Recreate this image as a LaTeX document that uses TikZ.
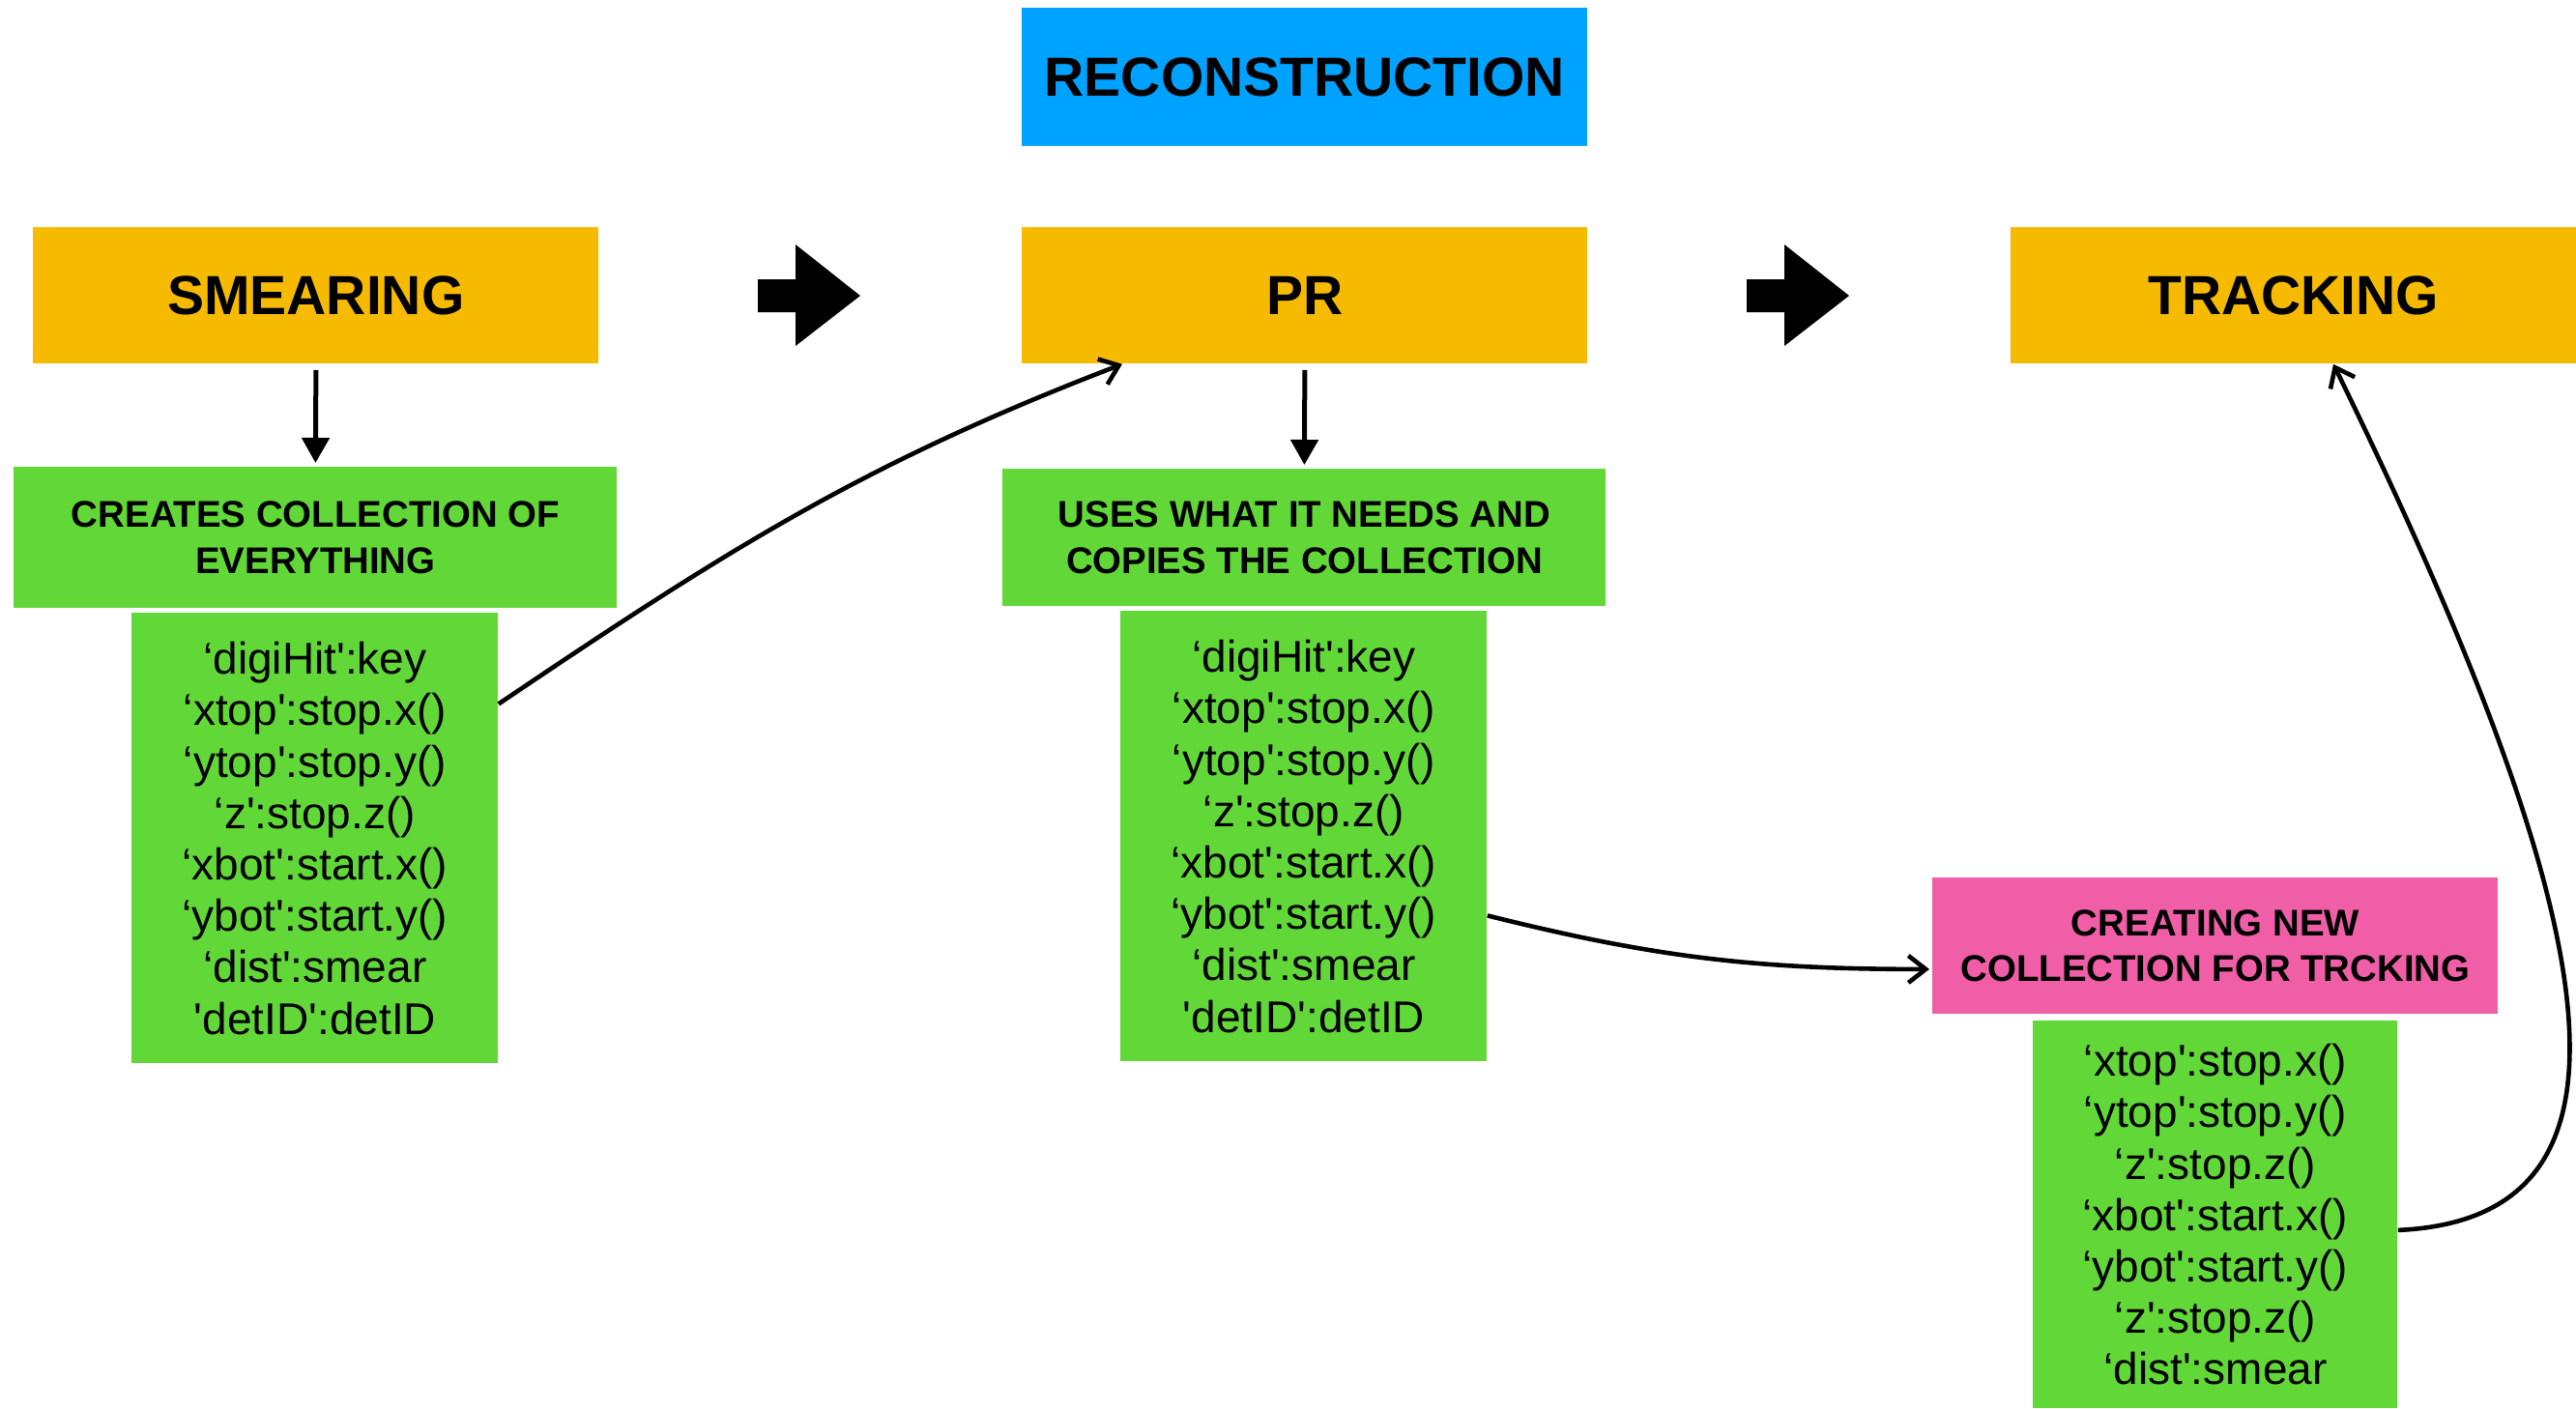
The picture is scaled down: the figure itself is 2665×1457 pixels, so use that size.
\documentclass[tikz,border=0pt]{standalone}
\usepackage{fontspec}
\setmainfont{Liberation Sans}[Ligatures=TeXOff]
\usetikzlibrary{arrows.meta}
\definecolor{orng}{RGB}{246,187,0}
\definecolor{grn}{RGB}{98,216,56}
\definecolor{blu}{RGB}{0,162,255}
\definecolor{pnk}{RGB}{239,94,166}
\begin{document}
\begin{tikzpicture}[x=0.5pt,y=0.5pt,
 box/.style={anchor=north west, inner sep=0pt, align=center},
 title/.style={box, font=\fontsize{28.5}{34}\selectfont\bfseries, minimum width=292.5pt, minimum height=70.5pt, fill=orng},
 head/.style={box, font=\fontsize{19.2}{23.8}\selectfont\bfseries, fill=grn, minimum width=312pt, minimum height=72pt},
 list/.style={box, font=\fontsize{23}{26.6}\selectfont, fill=grn, minimum width=189.5pt, minimum height=233pt},
 dn/.style={line width=2.5pt, -{Triangle[length=13pt,width=14pt]}, shorten <=3pt, shorten >=2pt},
 cv/.style={line width=2.3pt, -{Straight Barb[length=9pt,width=14pt]}},
 blockarrow/.style={fill=black},
]
\useasboundingbox (0,0) rectangle (2665,-1457);

\node[title, fill=blu, minimum height=71.5pt] (recon) at (1057,-8) {RECONSTRUCTION};
\node[title] (smear) at (34,-235) {SMEARING};
\node[title] (pr) at (1057,-235) {PR};
\node[title] (track) at (2080,-235) {TRACKING};

\node[head, minimum height=73pt] (c1) at (14,-483) {CREATES COLLECTION OF\\EVERYTHING};
\node[head, minimum height=71pt] (c2) at (1037,-485) {USES WHAT IT NEEDS AND\\COPIES THE COLLECTION};
\node[head, fill=pnk, minimum width=292.5pt, minimum height=70.5pt] (pink) at (1999,-908) {CREATING NEW\\COLLECTION FOR TRCKING};

\node[list] (l1) at (136,-634) {‘digiHit':key\\‘xtop':stop.x()\\‘ytop':stop.y()\\‘z':stop.z()\\‘xbot':start.x()\\‘ybot':start.y()\\‘dist':smear\\'detID':detID};
\node[list] (l2) at (1159,-632) {‘digiHit':key\\‘xtop':stop.x()\\‘ytop':stop.y()\\‘z':stop.z()\\‘xbot':start.x()\\‘ybot':start.y()\\‘dist':smear\\'detID':detID};
\node[list, minimum width=188.5pt, minimum height=200.5pt] (l3) at (2103,-1056) {‘xtop':stop.x()\\‘ytop':stop.y()\\‘z':stop.z()\\‘xbot':start.x()\\‘ybot':start.y()\\‘z':stop.z()\\‘dist':smear};

% block arrows
\fill[blockarrow] (784,-289) -- (823,-289) -- (823,-253) -- (890,-306) -- (823,-358) -- (823,-323) -- (784,-323) -- cycle;
\fill[blockarrow] (1807,-289) -- (1846,-289) -- (1846,-253) -- (1913,-306) -- (1846,-358) -- (1846,-323) -- (1807,-323) -- cycle;

% connectors
\draw[dn] (smear.south) -- (c1.north);
\draw[dn] (pr.south) -- (c2.north);
\draw[cv] ([yshift=69.5pt]l1.east) to[out=34,in=201] ([xshift=52pt]pr.south west);
\draw[cv] ([yshift=-41pt]l2.east) to[out=-14,in=180] ([yshift=-12pt,xshift=-1.5pt]pink.west);
\draw[cv] ([yshift=-8pt]l3.east) .. controls +(270,12) and +(286,-585) .. ([xshift=167pt]track.south west);
\end{tikzpicture}
\end{document}
